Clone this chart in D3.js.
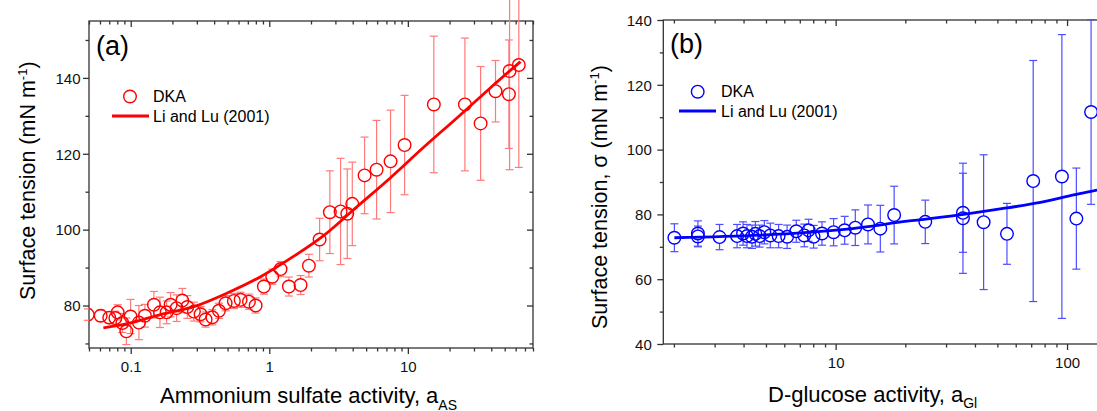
<!DOCTYPE html>
<html>
<head>
<meta charset="utf-8">
<script src="https://cdn.jsdelivr.net/npm/d3@7"></script>
<style>
  body { margin: 0; background: #fff; }
  svg { display: block; font-family: Arial, "Liberation Sans", sans-serif; }
</style>
</head>
<body>
<svg id="chart" width="1097" height="411"></svg>
<script>
// (a) ammonium sulfate: DKA points + Li and Lu (2001) curve
const asX = [0.049, 0.0607, 0.0700, 0.0775, 0.0805, 0.087, 0.093, 0.0998, 0.1146, 0.1266,
  0.147, 0.1625, 0.1816, 0.194, 0.2144, 0.2357, 0.256, 0.2857, 0.3193, 0.347,
  0.388, 0.433, 0.484, 0.555, 0.621, 0.713, 0.797, 0.914, 1.051, 1.206,
  1.385, 1.682, 1.931, 2.307, 2.736, 3.269, 3.654, 3.971, 4.871, 5.947,
  7.5, 9.47, 15.4, 25.8, 33.5, 42.9, 53.6, 54.2, 63.2];
const asY = [77.6, 77.3, 76.8, 76.7, 78.2, 75.4, 73.2, 77.1, 75.5, 77.3,
  80.2, 78.2, 78.2, 80.2, 79.3, 81.3, 79.6, 78.4, 77.7, 76.3,
  76.9, 78.6, 80.6, 81.2, 81.5, 81.0, 80.0, 85.0, 87.6, 89.6,
  85.0, 85.4, 90.5, 97.4, 104.6, 104.8, 104.2, 106.8, 114.3, 115.8,
  118.0, 122.3, 133.0, 133.0, 128.0, 136.5, 135.7, 141.8, 143.4];
const asErr = [1.5, 1.5, 1.5, 1.8, 2, 2.5, 3.5, 4.5, 4.5, 3,
  3.5, 4, 3, 3.2, 3.5, 3.2, 3, 2.5, 2, 2,
  2, 2, 2, 2, 2, 2, 2, 2, 2, 2,
  2.5, 2.5, 3, 5.6, 10.9, 14, 11.8, 11, 10.1, 13,
  13.5, 13.1, 18, 17.5, 15, 8.1, 14.3, 26, 27];
const asFitX = [0.0635, 0.0945, 0.164, 0.286, 0.498, 0.866, 1.505, 2.48, 4.31, 7.5, 13.0, 22.7, 39.5, 65];
const asFitY = [74.1, 75.2, 77.6, 79.7, 83.3, 87.6, 93.0, 98.5, 106.1, 113.7, 121.7, 129.5, 137.4, 144.3];
const asXTicks = [0.1, 1, 10];
const asYTicks = [80, 100, 120, 140];

// (b) D-glucose
const glX = [2.01, 2.54, 2.54, 3.15, 3.75, 3.98, 4.14, 4.35, 4.50, 4.69,
  4.92, 5.22, 5.67, 6.17, 6.76, 7.32, 7.64, 8.03, 8.73, 9.80,
  10.94, 12.16, 13.8, 15.6, 17.9, 24.4, 35.5, 35.5, 43.6, 55.0,
  71.4, 95.0, 109.7, 127];
const glY = [72.8, 74.1, 73.2, 73.0, 73.3, 74.1, 73.3, 73.1, 74.0, 73.3,
  74.5, 73.5, 73.3, 73.1, 74.8, 73.5, 75.1, 73.1, 74.1, 74.5,
  75.1, 75.9, 76.9, 75.6, 79.8, 77.7, 80.5, 78.8, 77.6, 74.0,
  90.3, 91.7, 78.7, 111.6];
const glErr = [4.3, 3.9, 3.2, 3.9, 3.6, 3.6, 3.6, 3.6, 3.8, 3.4,
  3.6, 3.8, 3.6, 3.6, 3.4, 3.5, 3.4, 3.5, 3.6, 4.2,
  4.3, 5.5, 6, 7.2, 8.9, 6.7, 12.2, 17, 20.8, 9.4,
  37.2, 43.8, 15.6, 28.5];
const glFitX = [2.01, 4.73, 10.94, 20.35, 35.7, 55, 76.7, 106.8, 135.2, 150];
const glFitY = [72.8, 73.6, 75.4, 77.9, 80.0, 82.0, 83.7, 86.0, 87.5, 88.2];
const glXTicks = [10, 100];
const glYTicks = [40, 60, 80, 100, 120, 140];

const legendNames = ["DKA", "Li and Lu (2001)"];

const svg = d3.select("#chart");
const axisColor = "#333";

function drawPanel(p) {
  const x = d3.scaleLog().domain(p.xDomain).range([p.left, p.right]);
  const y = d3.scaleLinear().domain(p.yDomain).range([p.bottom, p.top]);
  const g = svg.append("g");

  svg.append("clipPath").attr("id", "clip-" + p.id)
    .append("rect")
    .attr("x", p.left).attr("y", p.top)
    .attr("width", p.right - p.left).attr("height", p.bottom - p.top);

  const xMinor = x.ticks().filter(t => !p.xTicks.some(m => Math.abs(m - t) / m < 1e-6));
  const yMinor = d3.range(Math.ceil(p.yDomain[0] / 10) * 10, p.yDomain[1], 10)
    .filter(t => !p.yTicks.includes(t));
  const fmt = d3.format("~g");

  function axis(gen, transform, vals, size, labels) {
    const a = g.append("g").attr("transform", transform)
      .call(gen.tickValues(vals).tickSize(size).tickFormat(labels ? fmt : ""));
    a.select(".domain").remove();
    a.selectAll(".tick line").attr("stroke", axisColor).attr("stroke-width", 1.3);
    return a;
  }

  // bottom
  const xb = axis(d3.axisBottom(x), `translate(0,${p.bottom})`, p.xTicks, 6, true);
  xb.selectAll("text").attr("y", 24).attr("dy", null)
    .style("font-size", "15px").attr("fill", "#111");
  axis(d3.axisBottom(x), `translate(0,${p.bottom})`, xMinor, 3.5, false);
  // top (inward)
  axis(d3.axisTop(x), `translate(0,${p.top})`, p.xTicks, -6, false);
  axis(d3.axisTop(x), `translate(0,${p.top})`, xMinor, -3.5, false);
  // left
  const yl = axis(d3.axisLeft(y), `translate(${p.left},0)`, p.yTicks, 6, true);
  yl.selectAll("text").attr("x", -p.yLabelGap).attr("dy", "0.35em")
    .style("font-size", "15px").attr("fill", "#111");
  axis(d3.axisLeft(y), `translate(${p.left},0)`, yMinor, 3.5, false);
  // right (inward)
  axis(d3.axisRight(y), `translate(${p.right},0)`, p.yTicks, -6, false);
  axis(d3.axisRight(y), `translate(${p.right},0)`, yMinor, -3.5, false);

  // frame
  g.append("rect")
    .attr("x", p.left).attr("y", p.top)
    .attr("width", p.right - p.left).attr("height", p.bottom - p.top)
    .attr("fill", "none").attr("stroke", axisColor).attr("stroke-width", 1.3);

  const pts = p.xs.map((v, i) => ({ x: p.xs[i], y: p.ys[i], e: p.errs[i] }));
  const r = 6.3, cap = 4;

  // error bars (drawn outside the hollow symbols)
  const eb = g.append("g").attr("stroke", p.errColor).attr("stroke-width", 1.2).attr("fill", "none");
  pts.forEach(d => {
    const cx = x(d.x), cy = y(d.y), yt = y(d.y + d.e), ybt = y(d.y - d.e);
    if (cx < p.left - r) return;
    if (yt < cy - r) eb.append("line").attr("x1", cx).attr("x2", cx).attr("y1", yt).attr("y2", cy - r);
    if (ybt > cy + r) eb.append("line").attr("x1", cx).attr("x2", cx).attr("y1", cy + r).attr("y2", ybt);
    eb.append("line").attr("x1", cx - cap).attr("x2", cx + cap).attr("y1", yt).attr("y2", yt);
    eb.append("line").attr("x1", cx - cap).attr("x2", cx + cap).attr("y1", ybt).attr("y2", ybt);
  });

  // circles
  g.append("g").attr("clip-path", `url(#clip-${p.id})`)
    .selectAll("circle").data(pts).enter().append("circle")
    .attr("cx", d => x(d.x)).attr("cy", d => y(d.y)).attr("r", r)
    .attr("fill", "none").attr("stroke", p.color).attr("stroke-width", 1.4);

  // fit curve
  const line = d3.line().x(d => x(d[0])).y(d => y(d[1])).curve(d3.curveCatmullRom);
  g.append("path").datum(p.fitX.map((v, i) => [v, p.fitY[i]]))
    .attr("clip-path", `url(#clip-${p.id})`)
    .attr("d", line).attr("fill", "none")
    .attr("stroke", p.color).attr("stroke-width", 2.8);

  // legend
  const lg = p.legend;
  g.append("circle").attr("cx", lg.cx).attr("cy", lg.y1).attr("r", r)
    .attr("fill", "none").attr("stroke", p.color).attr("stroke-width", 1.4);
  g.append("line").attr("x1", lg.lx1).attr("x2", lg.lx2).attr("y1", lg.y2).attr("y2", lg.y2)
    .attr("stroke", p.color).attr("stroke-width", 2.8);
  g.selectAll(".lgtext").data(legendNames).enter().append("text")
    .attr("x", lg.tx).attr("y", (d, i) => (i ? lg.y2 : lg.y1) + 5.5)
    .style("font-size", "16px").text(d => d);

  // panel tag
  g.append("text").attr("x", p.tag.x).attr("y", p.tag.y)
    .style("font-size", "27px").text(p.tag.text);

  // x title
  const xt = g.append("text").attr("x", p.xTitle.x).attr("y", p.xTitle.y).style("font-size", "22px");
  xt.append("tspan").text(p.xTitle.text);
  xt.append("tspan").attr("dy", p.xTitle.subDy).style("font-size", "14px").text(p.xTitle.sub);

  // y title
  const yt = g.append("text")
    .attr("transform", `translate(${p.yTitle.x},${p.yTitle.y}) rotate(-90)`)
    .style("font-size", "21.5px");
  yt.append("tspan").text(p.yTitle.text);
  yt.append("tspan").attr("dy", -8).style("font-size", "13px").text("-1");
  yt.append("tspan").attr("dy", 8).text(")");
}

drawPanel({
  id: "a", xs: asX, ys: asY, errs: asErr, fitX: asFitX, fitY: asFitY,
  xTicks: asXTicks, yTicks: asYTicks,
  xDomain: [0.05, 80], yDomain: [68.8, 155],
  left: 89, right: 533, top: 21, bottom: 348, yLabelGap: 8.5,
  color: "#ff0000", errColor: "#ff7a7a",
  legend: { cx: 130, y1: 96.5, y2: 116, lx1: 112, lx2: 149, tx: 153 },
  tag: { x: 96, y: 55, text: "(a)" },
  xTitle: { x: 160, y: 403, text: "Ammonium sulfate activity, a", sub: "AS", subDy: 6.5 },
  yTitle: { x: 35, y: 300, text: "Surface tension (mN m" }
});

drawPanel({
  id: "b", xs: glX, ys: glY, errs: glErr, fitX: glFitX, fitY: glFitY,
  xTicks: glXTicks, yTicks: glYTicks,
  xDomain: [1.8, 150], yDomain: [40, 140],
  left: 663.3, right: 1107.8, top: 20, bottom: 344, yLabelGap: 11.5,
  color: "#0000ff", errColor: "#4d4dff",
  legend: { cx: 697.7, y1: 91.7, y2: 111, lx1: 679, lx2: 716, tx: 721 },
  tag: { x: 670, y: 53, text: "(b)" },
  xTitle: { x: 768, y: 401.7, text: "D-glucose activity, a", sub: "Gl", subDy: 6.6 },
  yTitle: { x: 607, y: 329, text: "Surface tension, σ (mN m" }
});
</script>
</body>
</html>
